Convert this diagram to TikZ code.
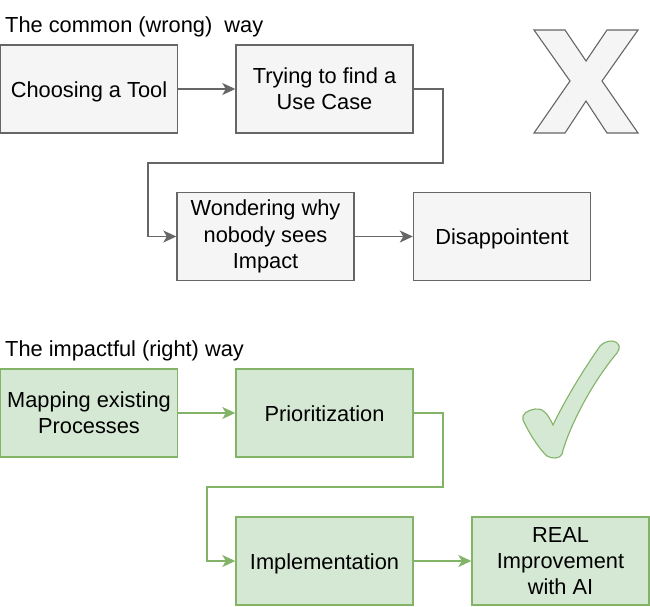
\documentclass[tikz,border=0pt]{standalone}
\usepackage{fontspec}
\setmainfont{Liberation Sans}
\usetikzlibrary{arrows.meta, positioning}

\definecolor{grayfill}{HTML}{F5F5F5}
\definecolor{graydraw}{HTML}{666666}
\definecolor{greenfill}{HTML}{D5E8D4}
\definecolor{greendraw}{HTML}{82B366}

\tikzset{
    block/.style={draw, line width=1.4pt, align=center, minimum width=177pt, minimum height=88pt, inner sep=0pt,
        font=\fontsize{21.8}{26.2}\selectfont},
    oneline/.style={text height=19pt, text depth=3pt},
    grayblock/.style={block, fill=grayfill, draw=graydraw},
    greenblock/.style={block, fill=greenfill, draw=greendraw},
    grayarrow/.style={draw=graydraw, line width=1.4pt, -{Stealth[length=13pt, width=12pt, inset=3.5pt]}},
    greenarrow/.style={draw=greendraw, line width=1.4pt, -{Stealth[length=13pt, width=12pt, inset=3.5pt]}},
    heading/.style={anchor=base west, inner sep=0pt, font=\fontsize{21.8}{26.2}\selectfont}
}

\begin{document}
\begin{tikzpicture}[x=1pt, y=-1pt]

    \useasboundingbox (0, 0) rectangle (650, 606);

    \node[heading] (wrongtitle) at (5, 32) {The common (wrong)\ \ way};

    \node[grayblock, oneline] (tool) at (89, 89) {Choosing a Tool};
    \node[grayblock] (usecase) at (324.5, 89) {Trying to find a\\Use Case};
    \node[grayblock] (wondering) at (265.5, 236.5) {Wondering why\\nobody sees\\Impact};
    \node[grayblock, oneline] (disappoint) at (502, 236.5) {Disappointent};

    \coordinate (wrongbendA) at (443, 163);
    \coordinate (wrongbendB) at (148, 163);

    \draw[grayarrow] (tool) -- (usecase);
    \draw[grayarrow] (usecase.east) -| (wrongbendA) -- (wrongbendB) |- (wondering.west);
    \draw[grayarrow] (wondering) -- (disappoint);

    \draw[line width=1.1pt, draw=graydraw, fill=grayfill]
        (534, 30) -- (565, 30) -- (586, 61) -- (607, 30) -- (638, 30) -- (602, 81)
        -- (638, 133) -- (607, 133) -- (586, 101) -- (565, 133) -- (534, 133) -- (570, 81) -- cycle;


    \node[heading] (righttitle) at (5, 356) {The impactful (right) way};

    \node[greenblock] (mapping) at (89, 413) {Mapping existing\\Processes};
    \node[greenblock, oneline] (prio) at (324.5, 413) {Prioritization};
    \node[greenblock, oneline] (implement) at (324.5, 561) {Implementation};
    \node[greenblock] (improve) at (560.5, 561) {REAL\\Improvement\\with AI};

    \coordinate (rightbendA) at (443, 487);
    \coordinate (rightbendB) at (207, 487);

    \draw[greenarrow] (mapping) -- (prio);
    \draw[greenarrow] (prio.east) -| (rightbendA) -- (rightbendB) |- (implement.west);
    \draw[greenarrow] (implement) -- (improve);

    \draw[line width=1.1pt, draw=greendraw, fill=greenfill]
        (553, 425) .. controls (547, 412) and (542, 408) .. (535, 409)
        .. controls (528, 410) and (521, 414) .. (523, 420)
        .. controls (530, 435) and (540, 450) .. (547, 456)
        .. controls (552, 459) and (560, 459) .. (562, 454)
        .. controls (568, 430) and (590, 385) .. (617, 353)
        .. controls (621, 348) and (620, 342) .. (612, 341)
        .. controls (607, 341) and (603, 343) .. (600, 346)
        .. controls (582, 372) and (565, 400) .. (553, 425) -- cycle;

\end{tikzpicture}
\end{document}
